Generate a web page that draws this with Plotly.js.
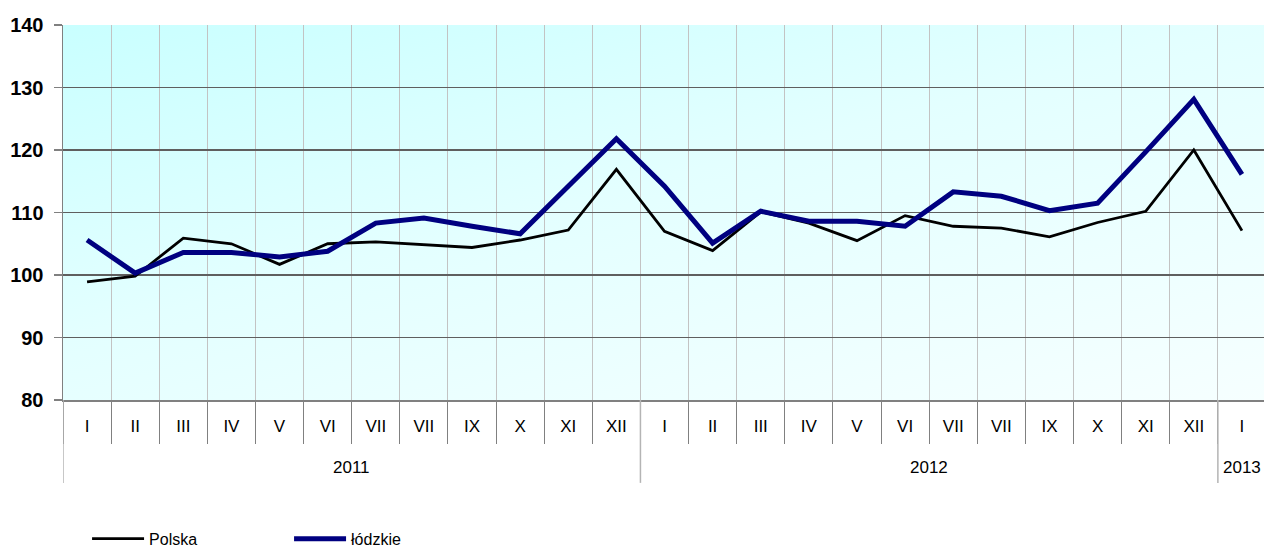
<!DOCTYPE html>
<html>
<head>
<meta charset="utf-8">
<script src="https://cdn.plot.ly/plotly-3.0.1.min.js"></script>
<style>
  html, body { margin: 0; padding: 0; background: #ffffff; overflow: hidden; }
  #wrap { position: relative; width: 1268px; height: 547px; }
  #bg { position: absolute; left: 63px; top: 25px; width: 1203px; height: 375px;
        background: linear-gradient(165deg, #c9ffff 0%, #e3ffff 45%, #f6ffff 100%); }
  #chart { position: absolute; left: 0; top: 0; width: 1268px; height: 547px; }
</style>
</head>
<body>
<div id="wrap"><div id="bg"></div><div id="chart"></div></div>
<script>
// ---- data ----
const months = ["I","II","III","IV","V","VI","VII","VII","IX","X","XI","XII",
                "I","II","III","IV","V","VI","VII","VII","IX","X","XI","XII",
                "I"];
const years  = [2011,2011,2011,2011,2011,2011,2011,2011,2011,2011,2011,2011,
                2012,2012,2012,2012,2012,2012,2012,2012,2012,2012,2012,2012,
                2013];
const polska  = [98.9, 99.8, 105.9, 105.0, 101.7, 105.0, 105.3, 104.8, 104.4, 105.6, 107.2, 116.9,
                 107.0, 103.9, 110.1, 108.3, 105.5, 109.5, 107.8, 107.5, 106.1, 108.4, 110.2, 120.0,
                 107.1];
const lodzkie = [105.6, 100.3, 103.6, 103.6, 102.9, 103.8, 108.3, 109.1, 107.8, 106.6, 114.2, 121.8,
                 114.2, 105.1, 110.2, 108.6, 108.6, 107.8, 113.3, 112.6, 110.3, 111.5, 119.7, 128.1,
                 116.1];
const seriesNames = ["Polska", "łódzkie"];

// ---- derived ----
const idx = months.map((_, i) => i);
const yearList = [...new Set(years)];
const groups = yearList.map(y => {
  const ids = idx.filter(i => years[i] === y);
  return { year: y, first: ids[0], last: ids[ids.length - 1] };
});

const font = "Arial, 'Liberation Sans', sans-serif";

const traces = [
  { x: idx, y: polska, name: seriesNames[0], type: "scatter", mode: "lines",
    line: { color: "#000000", width: 2.8 } },
  { x: idx, y: lodzkie, name: seriesNames[1], type: "scatter", mode: "lines",
    line: { color: "#000080", width: 5 } }
];

const shapes = [];
groups.forEach(g => {
  shapes.push({ type: "line", xref: "x", yref: "paper",
    x0: g.first - 0.5, x1: g.first - 0.5, y0: 0, y1: -0.221,
    line: { color: "#b4b4b4", width: 1.5 } });
});
const lastG = groups[groups.length - 1];
shapes.push({ type: "line", xref: "x", yref: "paper",
  x0: lastG.last + 0.5, x1: lastG.last + 0.5, y0: 0, y1: -0.221,
  line: { color: "#b4b4b4", width: 1.5 } });

const annotations = groups.map(g => ({
  x: (g.first + g.last) / 2, xref: "x", y: -0.179, yref: "paper",
  text: String(g.year), showarrow: false, xanchor: "center", yanchor: "middle",
  font: { family: font, size: 17, color: "#000000" }
}));

const layout = {
  width: 1268, height: 547,
  margin: { l: 63, r: 2, t: 25, b: 147, autoexpand: false },
  paper_bgcolor: "rgba(0,0,0,0)",
  plot_bgcolor: "rgba(0,0,0,0)",
  showlegend: true,
  legend: { orientation: "h", x: 0.02, xanchor: "left",
            yref: "container", y: 0.015, yanchor: "middle",
            itemwidth: 52,
            font: { family: font, size: 16, color: "#000000" },
            entrywidth: 135, entrywidthmode: "pixels", bgcolor: "rgba(0,0,0,0)" },
  xaxis: {
    range: [-0.5, months.length - 0.5],
    tickmode: "array", tickvals: idx, ticktext: months,
    ticks: "", showgrid: false, zeroline: false,
    showline: true, linecolor: "#808080", linewidth: 1.5,
    tickfont: { family: font, size: 17, color: "#000000" },
    ticklabelstandoff: 10,
    minor: { tickmode: "linear", tick0: -0.5, dtick: 1, ticks: "outside", ticklen: 42,
             tickcolor: "#808080", tickwidth: 1, showgrid: true, gridcolor: "#c3c3c3", gridwidth: 1 },
    fixedrange: true
  },
  yaxis: {
    range: [80, 140], dtick: 10, tick0: 80,
    ticks: "outside", ticklen: 8, tickcolor: "#808080", tickwidth: 1.5,
    showgrid: true, gridcolor: "#5f5f5f", gridwidth: 1.2,
    showline: true, linecolor: "#808080", linewidth: 1.5, zeroline: false,
    tickfont: { family: font, size: 20, color: "#000000", weight: "bold" },
    ticklabelstandoff: 6,
    fixedrange: true
  },
  shapes: shapes,
  annotations: annotations
};

Plotly.newPlot("chart", traces, layout, { displayModeBar: false, staticPlot: true });
</script>
</body>
</html>
